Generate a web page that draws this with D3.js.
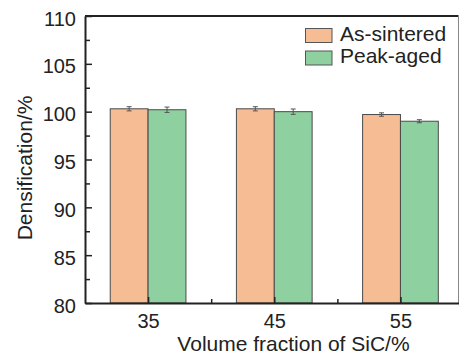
<!DOCTYPE html>
<html>
<head>
<meta charset="utf-8">
<script src="https://cdn.jsdelivr.net/npm/d3@7"></script>
<style>
  html, body { margin: 0; padding: 0; background: #fff; }
  svg { display: block; font-family: "Liberation Sans", Arial, sans-serif; }
</style>
</head>
<body>
<svg id="chart" width="461" height="356"></svg>
<script>
const categories = [35, 45, 55];
const seriesNames = ["As-sintered", "Peak-aged"];
const asSintered = [100.3, 100.3, 99.7];
const asSinteredErr = [0.22, 0.22, 0.18];
const peakAged = [100.2, 100.0, 99.0];
const peakAgedErr = [0.28, 0.28, 0.16];
const yTicks = [80, 85, 90, 95, 100, 105, 110];
const yMinorTicks = [82.5, 87.5, 92.5, 97.5, 102.5, 107.5];
const xTicks = [35, 45, 55];
const xMinorTicks = [40, 50];
const colors = ["#F6BD94", "#8FD0A0"];

const svg = d3.select("#chart");
const L = 85, R = 458.5, T = 16, B = 303;

const x = d3.scaleLinear().domain([30, 59.6]).range([L, R]);
const y = d3.scaleLinear().domain([80, 110]).range([B, T]);
const barW = x(3) - x(0);

const series = [
  { name: seriesNames[0], values: asSintered, errs: asSinteredErr, color: colors[0], offset: -1 },
  { name: seriesNames[1], values: peakAged, errs: peakAgedErr, color: colors[1], offset: 0 }
];

// bars
series.forEach(s => {
  const g = svg.append("g");
  g.selectAll("rect").data(categories).join("rect")
    .attr("x", (c) => x(c) + s.offset * barW)
    .attr("y", (c, i) => y(s.values[i]))
    .attr("width", barW)
    .attr("height", (c, i) => y(80) - y(s.values[i]))
    .attr("fill", s.color)
    .attr("stroke", "#4a4a4a")
    .attr("stroke-width", 1);
  // error bars
  const eg = svg.append("g").attr("stroke", "#555").attr("stroke-width", 1);
  categories.forEach((c, i) => {
    const cx = x(c) + s.offset * barW + barW / 2;
    const y1 = y(s.values[i] + s.errs[i]), y2 = y(s.values[i] - s.errs[i]);
    eg.append("line").attr("x1", cx).attr("x2", cx).attr("y1", y1).attr("y2", y2);
    eg.append("line").attr("x1", cx - 2.5).attr("x2", cx + 2.5).attr("y1", y1).attr("y2", y1);
    eg.append("line").attr("x1", cx - 2.5).attr("x2", cx + 2.5).attr("y1", y2).attr("y2", y2);
  });
});

// frame top & right
svg.append("line").attr("x1", L).attr("x2", R).attr("y1", T).attr("y2", T)
  .attr("stroke", "#222").attr("stroke-width", 2);
svg.append("line").attr("x1", R).attr("x2", R).attr("y1", T).attr("y2", B)
  .attr("stroke", "#888").attr("stroke-width", 1);

// y axis
const yAxis = svg.append("g").attr("transform", `translate(${L},0)`)
  .call(d3.axisLeft(y).tickValues(yTicks).tickSizeInner(-7).tickSizeOuter(0).tickPadding(9));
yAxis.select(".domain").attr("stroke", "#222").attr("stroke-width", 2);
yAxis.selectAll(".tick line").attr("stroke", "#222").attr("stroke-width", 1.5);
yAxis.selectAll("text").attr("font-size", 20).attr("fill", "#222").attr("dy", "0.45em")
  .attr("font-family", "Liberation Sans, Arial, sans-serif");
svg.append("g").attr("transform", `translate(${L},0)`)
  .call(d3.axisLeft(y).tickValues(yMinorTicks).tickSizeInner(-5).tickSizeOuter(0).tickFormat(""))
  .call(g => g.select(".domain").remove())
  .selectAll(".tick line").attr("stroke", "#222").attr("stroke-width", 1.5);

// x axis
const xAxis = svg.append("g").attr("transform", `translate(0,${B})`)
  .call(d3.axisBottom(x).tickValues(xTicks).tickSizeInner(-6).tickSizeOuter(0).tickPadding(0));
xAxis.select(".domain").attr("stroke", "#222").attr("stroke-width", 2);
xAxis.selectAll(".tick line").attr("stroke", "#222").attr("stroke-width", 1.5);
xAxis.selectAll("text").attr("font-size", 20).attr("fill", "#222").attr("y", 25).attr("dy", 0)
  .attr("font-family", "Liberation Sans, Arial, sans-serif");
svg.append("g").attr("transform", `translate(0,${B})`)
  .call(d3.axisBottom(x).tickValues(xMinorTicks).tickSizeInner(-4).tickSizeOuter(0).tickFormat(""))
  .call(g => g.select(".domain").remove())
  .selectAll(".tick line").attr("stroke", "#222").attr("stroke-width", 1.5);

// axis titles
svg.append("text").attr("x", 293.5).attr("y", 351).attr("text-anchor", "middle")
  .attr("font-size", 21).attr("fill", "#222").text("Volume fraction of SiC/%");
svg.append("text").attr("transform", "translate(32,168) rotate(-90)").attr("text-anchor", "middle")
  .attr("font-size", 21).attr("fill", "#222").text("Densification/%");

// legend
const leg = svg.append("g");
series.forEach((s, i) => {
  const yy = 28.5 + i * 22.5;
  leg.append("rect").attr("x", 305.5).attr("y", yy).attr("width", 26.5).attr("height", 14)
    .attr("fill", s.color).attr("stroke", "#555").attr("stroke-width", 1);
  leg.append("text").attr("x", 340).attr("y", yy + 12).attr("font-size", 21).attr("fill", "#222").text(s.name);
});
</script>
</body>
</html>
